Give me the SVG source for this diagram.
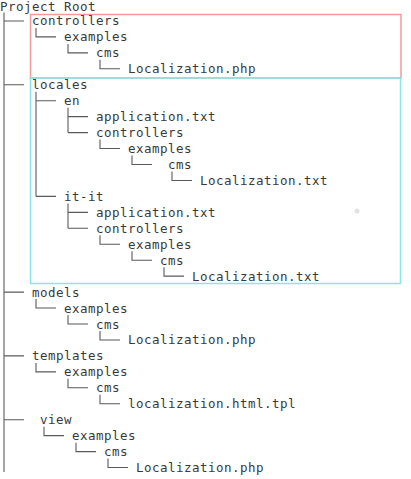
<svg xmlns="http://www.w3.org/2000/svg" width="411" height="479" viewBox="0 0 411 479">
<style>
text{font-family:"DejaVu Sans Mono","Liberation Mono",monospace;font-size:12.5px;letter-spacing:0.47px;fill:#3a3a3a}
.tree{fill:none;stroke:#5a5a5a;stroke-width:1.1}
.red{fill:none;stroke:#f29a9a;stroke-width:1.5}
.cyan{fill:none;stroke:#88e6e6;stroke-width:1.5}
</style>
<rect width="411" height="479" fill="#ffffff"/>
<g id="highlights">
<rect class="red" x="30.5" y="14.5" width="370.5" height="63.5"/>
<rect class="cyan" x="30.5" y="78" width="370" height="205.5"/>
<circle cx="357" cy="211" r="2.5" fill="#e2e2e2"/>
</g>
<g id="connectors" class="tree">
<path d="M4 12.5V472"/>
<path d="M4 20.95H24 M36 27.95V36.9H56 M68 43.9V52.85H88 M100 59.85V68.8H120"/>
<path d="M4 84.75H24 M36 91.75V196.4 M36 100.7H56 M36 196.4H56"/>
<path d="M68 107.7V132.6 M68 116.65H88 M68 132.6H88 M100 139.6V148.55H120 M132 155.55V164.5H152 M172 171.5V180.45H192"/>
<path d="M68 203.4V228.3 M68 212.35H88 M68 228.3H88 M100 235.3V244.25H120 M132 251.25V260.2H152 M164 267.2V276.15H184"/>
<path d="M4 292.1H24 M36 299.1V308.05H56 M68 315.05V324H88 M100 331V339.95H120"/>
<path d="M4 355.9H24 M36 362.9V371.85H56 M68 378.85V387.8H88 M100 394.8V403.75H120"/>
<path d="M4 419.7H24 M44 426.7V435.65H64 M76 442.65V451.6H96 M108 458.6V467.55H128"/>
</g>
<g id="root"><text x="0" y="10.8">Project Root</text></g>
<g id="controllers"><text x="32" y="25.45">controllers</text></g>
<g id="controllers-examples"><text x="64" y="41.4">examples</text></g>
<g id="controllers-cms"><text x="96" y="57.35">cms</text></g>
<g id="controllers-localization"><text x="128" y="73.3">Localization.php</text></g>
<g id="locales"><text x="32" y="89.25">locales</text></g>
<g id="en"><text x="64" y="105.2">en</text></g>
<g id="en-application"><text x="96" y="121.15">application.txt</text></g>
<g id="en-controllers"><text x="96" y="137.1">controllers</text></g>
<g id="en-examples"><text x="128" y="153.05">examples</text></g>
<g id="en-cms"><text x="168" y="169">cms</text></g>
<g id="en-localization"><text x="200" y="184.95">Localization.txt</text></g>
<g id="it-it"><text x="64" y="200.9">it-it</text></g>
<g id="it-application"><text x="96" y="216.85">application.txt</text></g>
<g id="it-controllers"><text x="96" y="232.8">controllers</text></g>
<g id="it-examples"><text x="128" y="248.75">examples</text></g>
<g id="it-cms"><text x="160" y="264.7">cms</text></g>
<g id="it-localization"><text x="192" y="280.65">Localization.txt</text></g>
<g id="models"><text x="32" y="296.6">models</text></g>
<g id="models-examples"><text x="64" y="312.55">examples</text></g>
<g id="models-cms"><text x="96" y="328.5">cms</text></g>
<g id="models-localization"><text x="128" y="344.45">Localization.php</text></g>
<g id="templates"><text x="32" y="360.4">templates</text></g>
<g id="templates-examples"><text x="64" y="376.35">examples</text></g>
<g id="templates-cms"><text x="96" y="392.3">cms</text></g>
<g id="templates-localization"><text x="128" y="408.25">localization.html.tpl</text></g>
<g id="view"><text x="40" y="424.2">view</text></g>
<g id="view-examples"><text x="72" y="440.15">examples</text></g>
<g id="view-cms"><text x="104" y="456.1">cms</text></g>
<g id="view-localization"><text x="136" y="472.05">Localization.php</text></g>
</svg>
